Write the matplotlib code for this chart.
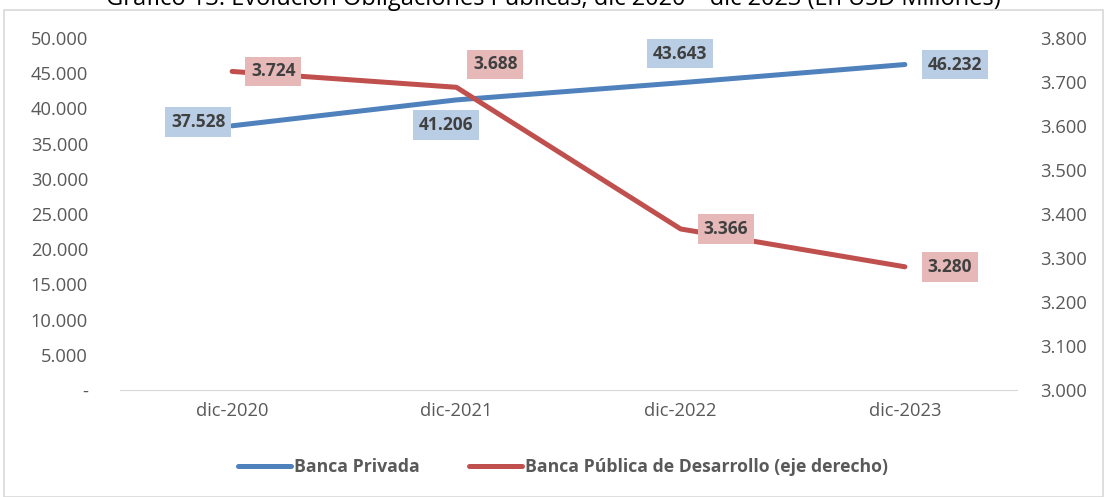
import matplotlib
matplotlib.use("Agg")
import matplotlib.pyplot as plt
from matplotlib.patches import Rectangle
from matplotlib.ticker import FuncFormatter

categories = ["dic-2020", "dic-2021", "dic-2022", "dic-2023"]
banca_privada = [37528, 41206, 43643, 46232]
banca_publica = [3724, 3688, 3366, 3280]
title = "Gráfico 13: Evolución Obligaciones Públicas, dic 2020 – dic 2023 (En USD Millones)"

BLUE = "#4F81BD"
RED = "#C0504D"
BLUE_BOX = "#B9CDE5"
RED_BOX = "#E6B9B8"
TXT = "#404040"

plt.rcParams['font.family'] = ['Open Sans', 'DejaVu Sans']

fig = plt.figure(figsize=(11.07, 4.97), dpi=100)
fig.patches.append(Rectangle((4/1107, 0.0), 1099/1107, 1 - 10/497, transform=fig.transFigure,
                             fill=False, edgecolor="#D9D9D9", linewidth=1.2))
fig.text(0.5, 1.0 - 5/497, title, ha='center', va='baseline', fontsize=17, color="#000000")

ax = fig.add_axes([120/1107, 1 - 390/497, 897/1107, 352/497])
ax2 = ax.twinx()

x = list(range(len(categories)))
l1, = ax.plot(x, banca_privada, color=BLUE, lw=3.6, solid_capstyle='round', label="Banca Privada", zorder=3)
l2, = ax2.plot(x, banca_publica, color=RED, lw=3.6, solid_capstyle='round',
               label="Banca Pública de Desarrollo (eje derecho)", zorder=3)

ax.set_xlim(-0.5, 3.5)
ax.set_ylim(0, 50000)
ax2.set_ylim(3000, 3800)
ax.set_yticks(range(0, 50001, 5000))
ax2.set_yticks(range(3000, 3801, 100))

def fmt_thousands(v, pos):
    if v == 0:
        return "-"
    return f"{int(v):,}".replace(",", ".")

def fmt_right(v, pos):
    return f"{int(v):,}".replace(",", ".")

ax.yaxis.set_major_formatter(FuncFormatter(fmt_thousands))
ax2.yaxis.set_major_formatter(FuncFormatter(fmt_right))
ax.set_xticks(x)
ax.set_xticklabels(categories)

for a in (ax, ax2):
    for s in a.spines.values():
        s.set_visible(False)
    a.tick_params(length=0, labelsize=13.2, colors="#595959")
ax.spines['bottom'].set_visible(True)
ax.spines['bottom'].set_color("#D9D9D9")
ax.tick_params(axis='y', pad=23)
ax2.tick_params(axis='y', pad=17)
ax.tick_params(axis='x', pad=9)

ax2.set_zorder(ax.get_zorder() + 1)
ax2.patch.set_visible(False)

px = 0.72
blue_off = [(-34, 4), (-10, -25), (-1, 29), (50, 0)]
red_off = [(41, 0), (39, 23), (45, 0), (45, 0)]

for i, v in enumerate(banca_privada):
    dx, dy = blue_off[i]
    ax2.annotate(f"{v:,}".replace(",", "."), xy=(i, v), xycoords=ax.transData,
                 xytext=(dx * px, dy * px), textcoords='offset points',
                 ha='center', va='center', fontsize=12.5, fontweight='bold', color=TXT,
                 bbox=dict(boxstyle='square,pad=0.33', fc=BLUE_BOX, ec='none'), zorder=5)
for i, v in enumerate(banca_publica):
    dx, dy = red_off[i]
    ax2.annotate(f"{v:,}".replace(",", "."), xy=(i, v), xycoords=ax2.transData,
                 xytext=(dx * px, dy * px), textcoords='offset points',
                 ha='center', va='center', fontsize=12.5, fontweight='bold', color=TXT,
                 bbox=dict(boxstyle='square,pad=0.33', fc=RED_BOX, ec='none'), zorder=5)

leg = fig.legend([l1, l2], [l1.get_label(), l2.get_label()], loc='center',
                 bbox_to_anchor=(563/1107, 1 - 467/497), ncol=2, frameon=False,
                 fontsize=12.7, handlelength=3.0, handletextpad=0.17, columnspacing=2.8)
for t in leg.get_texts():
    t.set_fontweight('bold')
    t.set_color("#595959")

fig.savefig("out.png", dpi=100)
